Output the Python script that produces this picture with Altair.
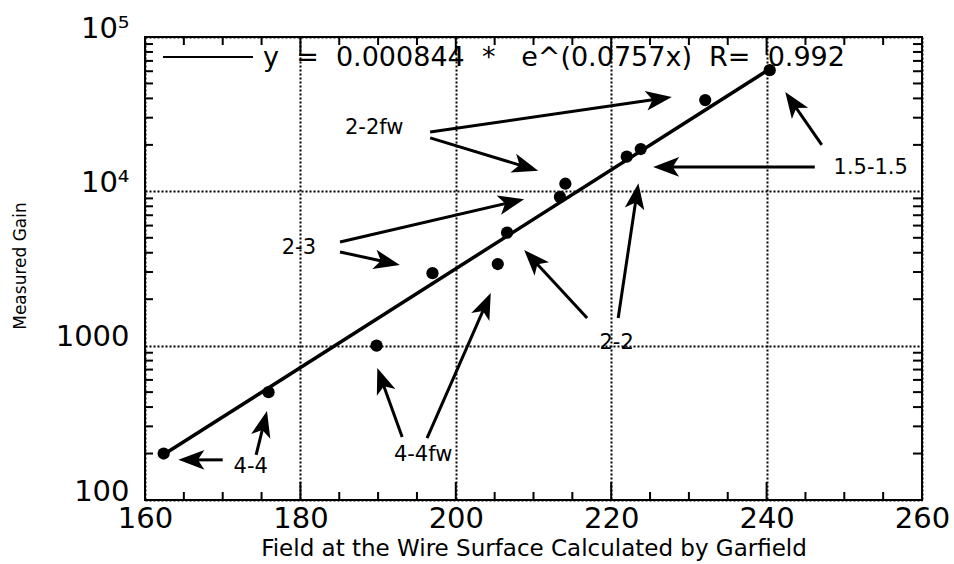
import math
import altair as alt
import pandas as pd

# ---------------- data ----------------
field = [162.4, 175.9, 189.8, 197.0, 205.4, 206.6, 213.4, 214.1, 222.0, 223.8, 232.1, 240.4]
gain = [200, 500, 1000, 2950, 3380, 5400, 9200, 11200, 16800, 18800, 39000, 61000]

fit_field = [162.4, 240.4]
fit_gain = [197, 62000]

ann_text = ["2-2fw", "2-3", "1.5-1.5", "2-2", "4-4fw", "4-4"]
ann_x = [189.5, 179.8, 253.4, 220.7, 195.8, 173.6]
ann_y = [25800, 4300, 14200, 1040, 196, 164]

arrow_x0 = [196.7, 196.7, 185.1, 185.1, 246.2, 247.1, 216.9, 220.9, 193.1, 196.3, 170.0, 174.3]
arrow_y0 = [24200, 22200, 4700, 4050, 14400, 20000, 1510, 1510, 256, 252, 182, 196]
arrow_x1 = [227.8, 210.6, 208.8, 192.8, 225.4, 242.4, 208.8, 223.5, 189.9, 204.5, 164.3, 175.7]
arrow_y1 = [40900, 13600, 8900, 3330, 14400, 44000, 4170, 11300, 717, 2190, 182, 377]

x_labels = [160, 180, 200, 220, 240, 260]
y_labels = [100, 1000, 10000, 100000]
x_minor = [165, 170, 175, 185, 190, 195, 205, 210, 215, 225, 230, 235, 245, 250, 255]
x_major = [180, 200, 220, 240]
y_minor = [200, 300, 400, 500, 600, 700, 800, 900,
           2000, 3000, 4000, 5000, 6000, 7000, 8000, 9000,
           20000, 30000, 40000, 50000, 60000, 70000, 80000, 90000]

NB = "\u00a0"
legend_text = ("y" + NB + " = " + NB + "0.000844" + NB + " *" + NB + NB + " e^(0.0757x)"
               + NB + " R=" + NB + " 0.992")
x_title = "Field at the Wire Surface Calculated by Garfield"
y_title = "Measured Gain"

# ---------------- layout ----------------
W, H = 777, 463
XMIN, XMAX = 160, 260
FONT = "DejaVu Sans"


def to_px(x, y):
    return ((x - XMIN) / (XMAX - XMIN) * W, H - (math.log10(y) - 2) / 3 * H)


def from_px(px, py):
    return (XMIN + px / W * (XMAX - XMIN), 10 ** (2 + (H - py) / H * 3))


xscale = alt.Scale(domain=[XMIN, XMAX], nice=False, zero=False)
yscale = alt.Scale(type="log", domain=[100, 100000], nice=False)

xaxis = alt.Axis(
    values=x_labels, grid=True, gridDash=[2, 2], gridColor="black", gridWidth=2,
    gridOpacity=1, domain=False, ticks=False, labelFont=FONT, labelFontSize=29,
    labelColor="black", labelPadding=4, labelFlush=False,
    title=x_title, titleFont=FONT, titleFontSize=23, titleFontWeight="normal",
    titleColor="black", titleY=55, titleBaseline="alphabetic",
)
yaxis = alt.Axis(
    values=y_labels, grid=True, gridDash=[2, 2], gridColor="black", gridWidth=2,
    gridOpacity=1, domain=False, ticks=False, labelFont=FONT, labelFontSize=29,
    labelColor="black", labelPadding=16, labelBaseline="alphabetic", labelFlush=False,
    labelExpr="datum.value > 50000 ? '10\u2075' : datum.value > 5000 ? '10\u2074' : datum.value > 500 ? '1000' : '100'",
    title=y_title, titleFont=FONT, titleFontSize=17, titleFontWeight="normal",
    titleColor="black", titleAngle=270, titleX=-120, titleY=H / 2 - 3,
    titleBaseline="alphabetic", titleAlign="center",
)


def X(f="x"):
    return alt.X(f"{f}:Q", scale=xscale, axis=xaxis)


def Y(f="y"):
    return alt.Y(f"{f}:Q", scale=yscale, axis=yaxis)


pts = pd.DataFrame({"x": field, "y": gain})
fit = pd.DataFrame({"x": fit_field, "y": fit_gain})
ann = pd.DataFrame({"x": ann_x, "y": ann_y, "t": ann_text})

rows = []
HEAD = 26
for x0, y0, x1, y1 in zip(arrow_x0, arrow_y0, arrow_x1, arrow_y1):
    p0x, p0y = to_px(x0, y0)
    p1x, p1y = to_px(x1, y1)
    dx, dy = p1x - p0x, p1y - p0y
    L = math.hypot(dx, dy)
    ang = math.degrees(math.atan2(dx, -dy)) % 360
    ex, ey = from_px(p1x - dx / L * 14, p1y - dy / L * 14)
    rows.append({"x": x0, "y": y0, "x2": ex, "y2": ey, "tx": x1, "ty": y1, "angle": ang})
arr = pd.DataFrame(rows)

xmin_df = pd.DataFrame({"x": x_minor})
xmaj_df = pd.DataFrame({"x": x_major})
ymin_df = pd.DataFrame({"y": y_minor})

grid_base = alt.Chart(pts).mark_point(opacity=0).encode(x=X(), y=Y())

line = alt.Chart(fit).mark_line(color="black", strokeWidth=3.5).encode(x=X(), y=Y())
dots = alt.Chart(pts).mark_circle(color="black", size=150, opacity=1).encode(x=X(), y=Y())

shafts = alt.Chart(arr).mark_rule(color="black", strokeWidth=3).encode(
    x=X(), y=Y(), x2="x2:Q", y2="y2:Q")
heads = alt.Chart(arr).mark_point(
    shape="M0,0L0.38,1L0,0.75L-0.38,1Z", filled=True, color="black", opacity=1,
    size=(2 * HEAD) ** 2, strokeWidth=0,
).encode(x=X("tx"), y=Y("ty"), angle=alt.Angle("angle:Q", scale=None))

labels = alt.Chart(ann).mark_text(
    font=FONT, fontSize=21, color="black", align="center", baseline="middle"
).encode(x=X(), y=Y(), text="t:N")

bt_minor = alt.Chart(xmin_df).mark_rule(color="black", strokeWidth=2).encode(
    x=X(), y=alt.value(H), y2=alt.value(H - 8))
tp_minor = alt.Chart(xmin_df).mark_rule(color="black", strokeWidth=2).encode(
    x=X(), y=alt.value(0), y2=alt.value(8))
bt_major = alt.Chart(xmaj_df).mark_rule(color="black", strokeWidth=2).encode(
    x=X(), y=alt.value(H), y2=alt.value(H - 18))
tp_major = alt.Chart(xmaj_df).mark_rule(color="black", strokeWidth=2).encode(
    x=X(), y=alt.value(0), y2=alt.value(18))
lf_minor = alt.Chart(ymin_df).mark_rule(color="black", strokeWidth=2).encode(
    y=Y(), x=alt.value(0), x2=alt.value(8))
rt_minor = alt.Chart(ymin_df).mark_rule(color="black", strokeWidth=2).encode(
    y=Y(), x=alt.value(W), x2=alt.value(W - 9))

leg_line = alt.Chart(pts).mark_rule(color="black", strokeWidth=1.5).encode(
    x=alt.value(18), x2=alt.value(108), y=alt.value(20))
leg_text = alt.Chart(pd.DataFrame({"t": [legend_text]})).mark_text(
    font=FONT, fontSize=27, color="black", align="left", baseline="middle"
).encode(text="t:N", x=alt.value(118), y=alt.value(21))

chart = alt.layer(
    grid_base, bt_minor, tp_minor, bt_major, tp_major, lf_minor, rt_minor,
    line, shafts, heads, dots, labels, leg_line, leg_text,
).properties(
    width=W, height=H, autosize="none",
    padding={"left": 145, "top": 37, "right": 32, "bottom": 64},
    background="white",
).configure_view(stroke="black", strokeWidth=2)

chart.save("out.html", embed_options={"renderer": "svg", "actions": False})
